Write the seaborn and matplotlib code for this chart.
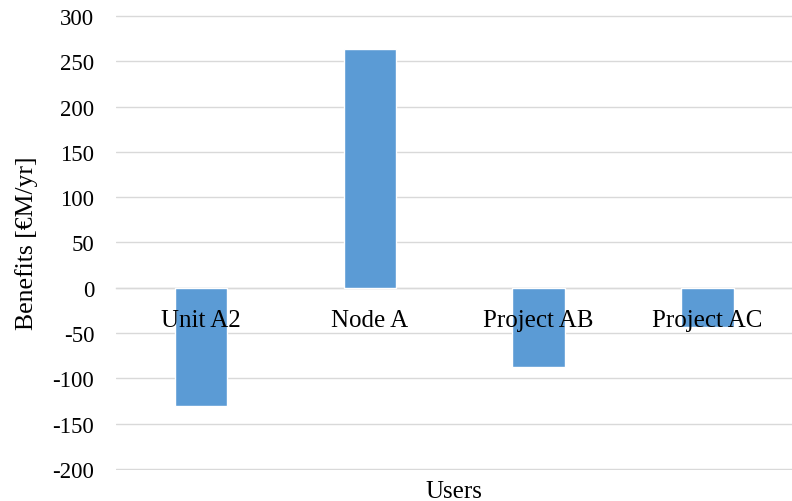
import pandas as pd
import seaborn as sns
import matplotlib.pyplot as plt

# data
USERS = ["Unit A2", "Node A", "Project AB", "Project AC"]
BENEFITS = [-131, 263, -87, -43]
Y_TICKS = [-200, -150, -100, -50, 0, 50, 100, 150, 200, 250, 300]

BAR_COLOR = "#5b9bd5"
GRID_COLOR = "#d9d9d9"

df = pd.DataFrame({"Users": USERS, "Benefits": BENEFITS})

sns.set_theme(style="whitegrid")
plt.rcParams["font.family"] = ["Liberation Serif", "DejaVu Serif"]
plt.rcParams["axes.unicode_minus"] = False

fig = plt.figure(figsize=(7.92, 5.02), dpi=100)
ax = fig.add_axes([0.147, 0.062, 0.853, 0.906])

sns.barplot(data=df, x="Users", y="Benefits", color=BAR_COLOR,
            width=0.31, saturation=1, ax=ax)

# a little headroom so the -200 / 300 gridlines are not clipped
ax.set_ylim(-201, 301)
ax.set_xlim(-0.5, 3.5)
ax.set_yticks(Y_TICKS)
ax.grid(axis="y", color=GRID_COLOR, linewidth=1)
ax.grid(axis="x", visible=False)
ax.set_axisbelow(True)
# category labels sit on top of the bars, gridlines stay behind
ax.xaxis.set_zorder(3)

for side in ["left", "right", "top"]:
    ax.spines[side].set_visible(False)
# x axis sits on the zero line, labels just under it
ax.spines["bottom"].set_position(("data", 0))
ax.spines["bottom"].set_color(GRID_COLOR)
ax.spines["bottom"].set_linewidth(1)
ax.spines["bottom"].set_zorder(0.6)

ax.tick_params(axis="x", length=0, pad=15, labelsize=18, colors="black")
ax.tick_params(axis="y", length=0, pad=16, labelsize=16.5, colors="black")

ax.set_xlabel("Users", fontsize=18, color="black")
ax.xaxis.set_label_coords(0.5, -0.022)
ax.set_ylabel("Benefits [€M/yr]", fontsize=18.5, color="black", labelpad=10)

fig.savefig("out.png", dpi=100)
